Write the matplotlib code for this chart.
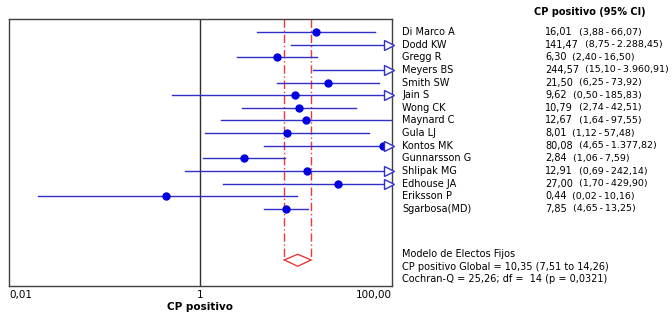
import matplotlib
matplotlib.use("Agg")
import matplotlib.pyplot as plt

# study data
studies = ["Di Marco A", "Dodd KW", "Gregg R", "Meyers BS", "Smith SW", "Jain S",
           "Wong CK", "Maynard C", "Gula LJ", "Kontos MK", "Gunnarsson G",
           "Shlipak MG", "Edhouse JA", "Eriksson P", "Sgarbosa(MD)"]
est = [16.01, 141.47, 6.30, 244.57, 21.50, 9.62, 10.79, 12.67, 8.01, 80.08,
       2.84, 12.91, 27.00, 0.44, 7.85]
lo = [3.88, 8.75, 2.40, 15.10, 6.25, 0.50, 2.74, 1.64, 1.12, 4.65,
      1.06, 0.69, 1.70, 0.02, 4.65]
hi = [66.07, 2288.45, 16.50, 3960.91, 73.92, 185.83, 42.51, 97.55, 57.48, 1377.82,
      7.59, 242.14, 429.90, 10.16, 13.25]

pooled = 10.35
pooled_lo = 7.51
pooled_hi = 14.26
cochran_q = 25.26
df_q = 14
p_q = 0.0321

xmin, xmax = 0.01, 100.0


def fmt(v):
    # european number format: 2.288,45
    s = f"{v:,.2f}"
    return s.replace(",", "X").replace(".", ",").replace("X", ".")


fig = plt.figure(figsize=(6.72, 3.2), dpi=100)
ax = fig.add_axes([9 / 672, 34 / 320, 383 / 672, 267 / 320])
ax.set_xscale("log")
ax.set_xlim(xmin, xmax)
ax.set_ylim(20.1, -1.03)

line_col = "#3030c8"
dot_col = "#0000e0"
red = "#e83a3a"

# null line
ax.axvline(1, color="#303030", lw=1.0, zorder=1)

# study rows
for i in range(len(studies)):
    x0 = max(lo[i], xmin)
    x1 = min(hi[i], xmax)
    ax.plot([x0, x1], [i, i], color=line_col, lw=1.0, zorder=2)
    if est[i] <= xmax:
        ax.plot(est[i], i, "o", color=dot_col, ms=5, zorder=3)
    if hi[i] > xmax:
        ax.plot(xmax * 0.93, i, ">", ms=7, mfc="white", mec=line_col,
                mew=1.0, zorder=4, clip_on=False)

# pooled estimate
yd = 18.04
for v in (pooled_lo, pooled_hi):
    ax.plot([v, v], [-1.03, yd], color=red, lw=1.0,
            dashes=(6, 2, 1, 2), zorder=1)
ax.plot([pooled_lo, pooled, pooled_hi, pooled, pooled_lo],
        [yd, yd - 0.45, yd, yd + 0.5, yd], color=red, lw=1.0, zorder=3)

# axis styling
for s in ax.spines.values():
    s.set_color("#404040")
    s.set_linewidth(1.0)
ax.set_yticks([])
ax.set_xticks([0.01, 1, 100])
ax.set_xticks([], minor=True)
ax.set_xticklabels(["0,01", "1", "100,00"], fontsize=7.5)
ax.tick_params(axis="x", length=0, pad=3)
labs = ax.get_xticklabels()
labs[0].set_ha("left")
labs[2].set_ha("right")
ax.set_xlabel("CP positivo", fontsize=7.5, fontweight="bold", labelpad=1)

# right hand text
fs = 7
renderer = fig.canvas.get_renderer()
fig.text(534 / 672, 1 - 12 / 320, "CP positivo (95% CI)", fontsize=7,
         fontweight="bold", va="center", ha="left")
for i in range(len(studies)):
    yf = 1 - (32 + i * 12.64) / 320
    fig.text(402 / 672, yf, studies[i], fontsize=fs, va="center", ha="left")
    t = fig.text(545 / 672, yf, fmt(est[i]), fontsize=fs, va="center", ha="left")
    right = t.get_window_extent(renderer).x1
    fig.text((right + 6) / 672, yf, f"({fmt(lo[i])}\u2009-\u2009{fmt(hi[i])})",
             fontsize=6.8, va="center", ha="left")

fig.text(402 / 672, 1 - 254 / 320, "Modelo de Electos Fijos", fontsize=fs, va="center")
fig.text(402 / 672, 1 - 267 / 320,
         f"CP positivo Global = {fmt(pooled)} ({fmt(pooled_lo)} to {fmt(pooled_hi)})",
         fontsize=fs, va="center")
fig.text(402 / 672, 1 - 279 / 320,
         f"Cochran-Q = {fmt(cochran_q)}; df =  {df_q} (p = {str(p_q).replace('.', ',')})",
         fontsize=fs, va="center")

fig.savefig("out.png", dpi=100)
